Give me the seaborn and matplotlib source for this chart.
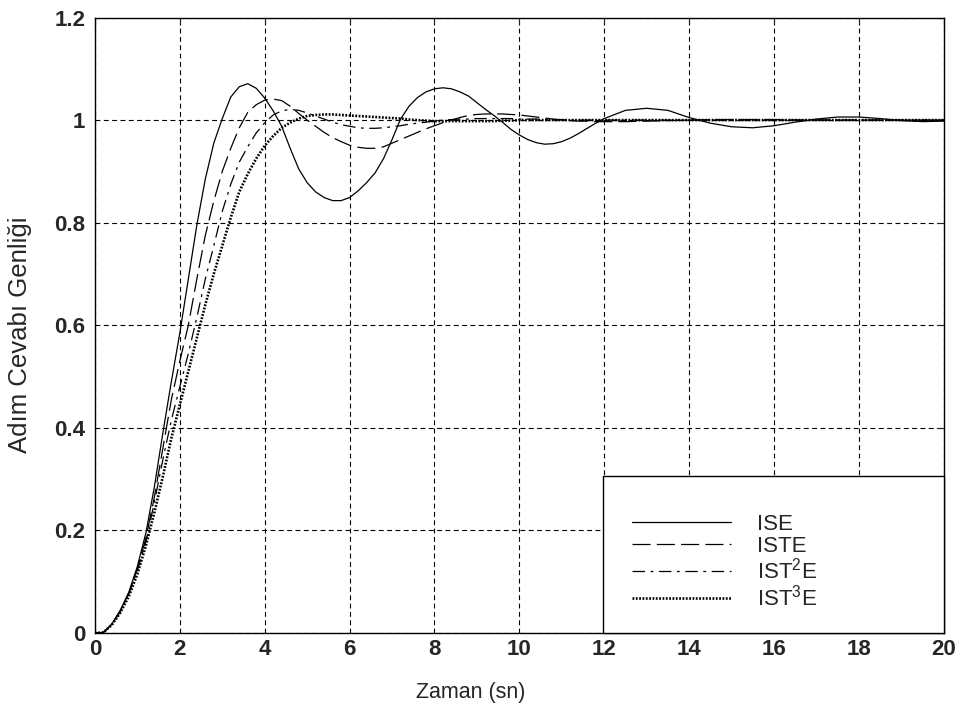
import matplotlib
matplotlib.use("Agg")
import matplotlib.pyplot as plt
from matplotlib.patches import Rectangle
import pandas as pd
import seaborn as sns

# Sampling instants of the step responses (s)
time = [0.0, 0.2, 0.4, 0.6, 0.8, 1.0, 1.2, 1.4, 1.6, 1.8,
        2.0, 2.2, 2.4, 2.6, 2.8, 3.0, 3.2, 3.4, 3.6, 3.8,
        4.0, 4.2, 4.4, 4.6, 4.8, 5.0, 5.2, 5.4, 5.6, 5.8,
        6.0, 6.2, 6.4, 6.6, 6.8, 7.0, 7.2, 7.4, 7.6, 7.8,
        8.0, 8.2, 8.4, 8.6, 8.8, 9.0, 9.2, 9.4, 9.6, 9.8,
        10.0, 10.2, 10.4, 10.6, 10.8, 11.0, 11.2, 11.4, 11.6, 11.8,
        12.0,
        12.5, 13.0, 13.5, 14.0, 14.5, 15.0, 15.5, 16.0,
        16.5, 17.0, 17.5, 18.0, 18.5, 19.0, 19.5, 20.0]

ise = [0.0, 0.001, 0.018, 0.045, 0.08, 0.13, 0.195, 0.285, 0.39, 0.49,
       0.585, 0.69, 0.795, 0.885, 0.955, 1.003, 1.045, 1.065, 1.071, 1.062,
       1.043, 1.018, 0.988, 0.945, 0.905, 0.878, 0.86, 0.849, 0.843, 0.843,
       0.849, 0.862, 0.878, 0.897, 0.925, 0.962, 1.002, 1.027, 1.044, 1.055,
       1.061, 1.063, 1.061, 1.055, 1.047, 1.034, 1.021, 1.009, 0.996, 0.982,
       0.971, 0.962, 0.956, 0.953, 0.954, 0.958, 0.965, 0.974, 0.984, 0.994,
       1.003,
       1.019, 1.023, 1.019, 1.005, 0.994, 0.987, 0.985, 0.989,
       0.996, 1.002, 1.006, 1.006, 1.003, 0.999, 0.997, 0.998]

iste = [0.0, 0.001, 0.017, 0.043, 0.078, 0.125, 0.185, 0.265, 0.36, 0.455,
        0.53, 0.6, 0.69, 0.775, 0.842, 0.9, 0.945, 0.985, 1.015, 1.03,
        1.039, 1.041, 1.038, 1.027, 1.013, 1.0, 0.988, 0.976, 0.966, 0.958,
        0.951, 0.947, 0.945, 0.945, 0.948, 0.955, 0.962, 0.969, 0.976, 0.983,
        0.989, 0.995, 1.0, 1.005, 1.009, 1.011, 1.012, 1.012, 1.012, 1.011,
        1.01, 1.008, 1.006, 1.004, 1.002, 1.0, 0.999, 0.998, 0.998, 0.997,
        0.997,
        0.997, 0.998, 0.999, 1.0, 1.001, 1.001, 1.001, 1.001,
        1.0, 1.0, 1.0, 1.0, 1.0, 1.0, 1.0, 1.0]

ist2e = [0.0, 0.001, 0.017, 0.042, 0.077, 0.122, 0.178, 0.255, 0.338, 0.415,
         0.48, 0.545, 0.615, 0.69, 0.755, 0.822, 0.875, 0.918, 0.948, 0.975,
         0.995, 1.01, 1.018, 1.021, 1.019, 1.014, 1.008, 1.002, 0.996, 0.991,
         0.988, 0.985, 0.984, 0.984, 0.985, 0.987, 0.989, 0.992, 0.994, 0.996,
         0.998, 1.0, 1.001, 1.002, 1.002, 1.003, 1.003, 1.003, 1.003, 1.003,
         1.002, 1.002, 1.002, 1.001, 1.001, 1.001, 1.0, 1.0, 1.0, 1.0,
         1.0,
         1.0, 1.0, 1.0, 1.0, 1.0, 1.0, 1.0, 1.0,
         1.0, 1.0, 1.0, 1.0, 1.0, 1.0, 1.0, 1.0]

ist3e = [0.0, 0.001, 0.016, 0.04, 0.072, 0.115, 0.17, 0.235, 0.305, 0.38,
         0.445, 0.51, 0.575, 0.64, 0.7, 0.755, 0.81, 0.86, 0.895, 0.925,
         0.95, 0.969, 0.985, 0.995, 1.003, 1.008, 1.01, 1.011, 1.011, 1.01,
         1.009, 1.008, 1.007, 1.006, 1.005, 1.004, 1.003, 1.001, 1.0, 0.999,
         0.998, 0.998, 0.998, 0.998, 0.998, 0.998, 0.998, 0.998, 0.999, 0.999,
         1.0, 1.0, 1.0, 1.0, 1.0, 1.0, 1.0, 1.0, 1.0, 1.0,
         1.0,
         1.0, 1.0, 1.0, 1.0, 1.0, 1.0, 1.0, 1.0,
         1.0, 1.0, 1.0, 1.0, 1.0, 1.0, 1.0, 1.0]

labels = ["ISE", "ISTE", "IST$^2$E", "IST$^3$E"]
x_ticks = [0, 2, 4, 6, 8, 10, 12, 14, 16, 18, 20]
y_ticks = [0, 0.2, 0.4, 0.6, 0.8, 1.0, 1.2]
y_tick_labels = ["0", "0.2", "0.4", "0.6", "0.8", "1", "1.2"]

sns.set_style("white")
plt.rcParams["font.family"] = ["Liberation Sans", "DejaVu Sans"]
plt.rcParams["mathtext.fontset"] = "custom"
plt.rcParams["mathtext.rm"] = "Liberation Sans"
plt.rcParams["mathtext.default"] = "regular"
plt.rcParams["lines.scale_dashes"] = False

fig = plt.figure(figsize=(9.64, 7.15), dpi=100)
ax = fig.add_axes([0.0985, 0.1147, 0.8805, 0.8608])

line_styles = [
    dict(linestyle="-", linewidth=0.9),
    dict(linestyle=(0, (13, 4.5)), linewidth=0.9),
    dict(linestyle=(0, (9, 4, 2, 4)), linewidth=0.9),
    dict(linestyle=(0, (1.3, 1.1)), linewidth=1.9),
]

for values, label, style in zip([ise, iste, ist2e, ist3e], labels, line_styles):
    df = pd.DataFrame({"t": time, "y": values})
    sns.lineplot(data=df, x="t", y="y", ax=ax, color="black", label=label,
                 **style)

ax.set_xlim(0, 20)
ax.set_ylim(0, 1.2)
ax.set_xticks(x_ticks)
ax.set_xticklabels([str(v) for v in x_ticks])
ax.set_yticks(y_ticks)
ax.set_yticklabels(y_tick_labels)
ax.grid(True, color="black", linestyle=(0, (3.5, 2.5)), linewidth=0.8)
ax.tick_params(direction="in", length=5, width=0.8, labelsize=16,
               top=True, right=True)
ax.tick_params(axis="y", pad=7)
ax.tick_params(axis="x", pad=4)
for lbl in ax.get_xticklabels() + ax.get_yticklabels():
    lbl.set_fontweight("bold")
for sp in ax.spines.values():
    sp.set_color("black")
    sp.set_linewidth(1.0)

ax.set_xlabel("Zaman (sn)", fontsize=15.5)
ax.set_ylabel("Adım Cevabı Genliği", fontsize=18.5)
ax.xaxis.set_label_coords(0.443, -0.08)
ax.yaxis.set_label_coords(-0.074, 0.485)

# Legend box in the lower-right corner, flush with the axes frame
ax.add_patch(Rectangle((0.598, 0.0), 0.402, 0.2553, transform=ax.transAxes,
                       facecolor="white", edgecolor="black", linewidth=1.0,
                       zorder=4, clip_on=False))
leg = ax.legend(loc="lower left", bbox_to_anchor=(0.6325, 0.036),
                borderaxespad=0, frameon=False, fontsize=16,
                handlelength=4.45, handletextpad=1.2, labelspacing=0.05,
                borderpad=0)
leg.set_zorder(5)

fig.savefig("out.png", dpi=100)
